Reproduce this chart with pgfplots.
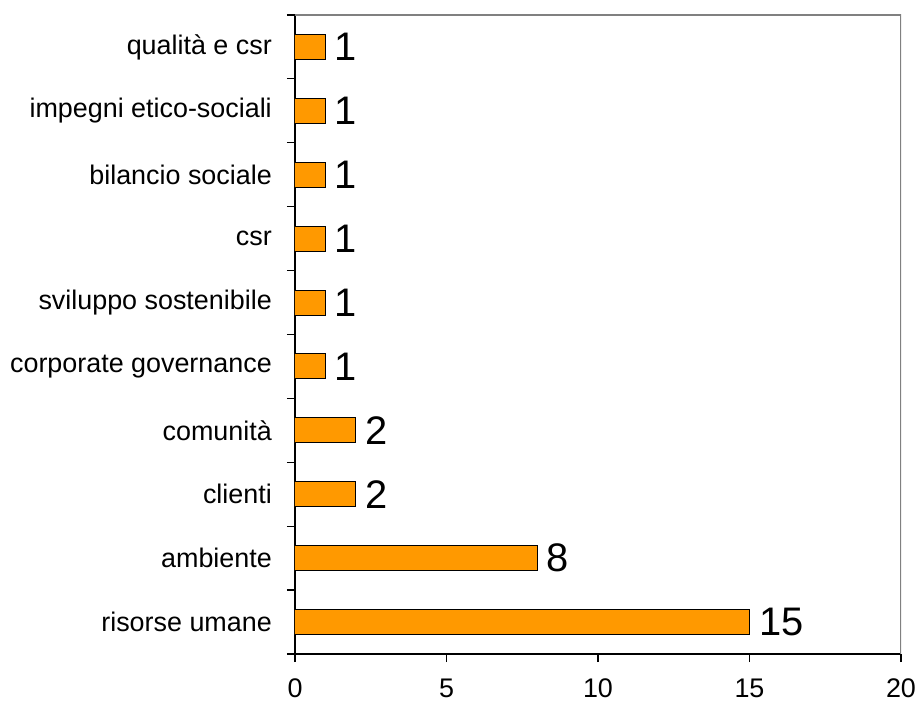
\documentclass[border=0pt]{standalone}
\usepackage{fontspec}
\setmainfont{Liberation Sans}
\usepackage{pgfplots}
\pgfplotsset{compat=1.18}
\definecolor{barorange}{RGB}{255,153,0}
\definecolor{framegray}{RGB}{128,128,128}
\begin{document}
\begin{tikzpicture}
\begin{axis}[
  at={(0,0)}, anchor=south west,
  scale only axis,
  width=606bp, height=639bp,
  xbar, bar width=0.39,
  xmin=0, xmax=20,
  ymin=-0.5, ymax=9.5,
  xtick={0,5,10,15,20},
  ytick={0,...,9},
  yticklabels={risorse umane,ambiente,clienti,comunità,corporate governance,sviluppo sostenibile,csr,bilancio sociale,impegni etico-sociali,qualità e csr},
  minor ytick={-0.5,0.5,...,9.5},
  major y tick style={draw=none},
  tick align=outside,
  major tick length=8bp,
  minor tick length=8bp,
  tick style={black, line width=1.2bp},
  axis x line*=bottom,
  axis y line*=left,
  axis line style={-, black, line width=1.2bp},
  /pgf/number format/assume math mode=true,
  yticklabel style={font=\fontsize{27}{30}\selectfont, inner sep=0pt, anchor=east, xshift=-15bp},
  xticklabel style={font=\fontsize{27}{30}\selectfont, inner sep=0pt, anchor=north, yshift=-17bp},
  nodes near coords,
  nodes near coords style={font=\fontsize{40}{44}\selectfont, anchor=west, inner sep=0pt, xshift=9bp},
]
\addplot[fill=barorange, draw=black, line width=1bp] coordinates {
  (15,0) (8,1) (2,2) (2,3) (1,4) (1,5) (1,6) (1,7) (1,8) (1,9)
};
\draw[framegray, line width=1.5bp] (rel axis cs:0,1) -- (rel axis cs:1,1) -- (rel axis cs:1,0);
\end{axis}
\pgfresetboundingbox
\useasboundingbox (-295bp,-49bp) rectangle (623bp,654bp);
\end{tikzpicture}
\end{document}
